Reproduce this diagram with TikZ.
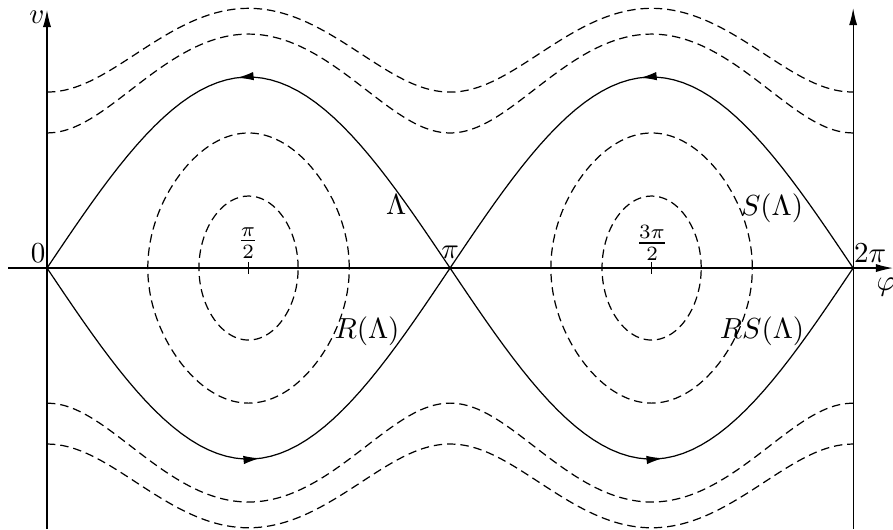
\documentclass[tikz,border=0pt]{standalone}
\usepackage{amsmath, amssymb}
\usepackage{tikz}
\usetikzlibrary{arrows.meta, decorations.markings}

\tikzset{
    eix/.style={line width=0.42pt},
    orbita/.style={line width=0.42pt, dash pattern=on 2.9pt off 1.7pt},
    separatriu/.style={line width=0.42pt},
    fletxa/.style={postaction={decorate}, decoration={markings,
        mark=at position 0.52 with {\arrow{Latex[length=5.7pt,width=2.9pt]}}}},
}

\begin{document}
\begin{tikzpicture}[x=0.7724pt, y=65.9pt]
    \useasboundingbox (-20.99,-1.3665) rectangle (377.8,1.403);

    % Eixos
    \coordinate (xa) at (-17.4,0);
    \coordinate (xb) at (377.8,0);
    \coordinate (ya) at (0,-1.3665);
    \coordinate (yb) at (0,1.351);
    \coordinate (za) at (360,-1.3665);
    \coordinate (zb) at (360,1.361);
    \draw[eix, -{Latex[length=5.9pt,width=2.8pt]}] (xa) -- (xb);
    \draw[eix, -{Latex[length=5.9pt,width=2.8pt]}] (ya) -- (yb);
    \draw[eix, -{Latex[length=5.9pt,width=2.8pt]}] (za) -- (zb);
    \foreach \a in {90,270}
        \draw[eix] (\a,-0.031) -- (\a,0.031);

    % Etiquetes
    \node (v) at (-4.5,1.314) {$v$};
    \node (phi) at (374.7,-0.1) {$\varphi$};
    \node (zero) at (-4.0,0.0785) {$0$};
    \node (pi) at (180,0.084) {$\pi$};
    \node (dospi) at (367.6,0.0785) {$2\pi$};
    \node (mitjpi) at (89.8,0.131) {$\frac{\pi}{2}$};
    \node (tresmitjpi) at (270.2,0.131) {$\frac{3\pi}{2}$};

    % Separatrius
    \draw[separatriu, fletxa] plot[domain=180:0, samples=46] (\x,{sin(\x)});
    \draw[separatriu, fletxa] plot[domain=0:180, samples=46] (\x,{-sin(\x)});
    \draw[separatriu, fletxa] plot[domain=360:180, samples=46] (\x,{-sin(\x)});
    \draw[separatriu, fletxa] plot[domain=180:360, samples=46] (\x,{sin(\x)});
    \node (lam) at (155.9,0.33) {$\Lambda$};
    \node (slam) at (323.8,0.314) {$S(\Lambda)$};
    \node (rlam) at (142.9,-0.33) {$R(\Lambda)$};
    \node (rslam) at (319.3,-0.33) {$RS(\Lambda)$};

    % Orbites tancades
    \foreach \c in {90,270}
        \foreach \k in {0.377,0.707}
            \draw[orbita] plot[domain=0:360, samples=73, smooth]
                ({\c+asin(\k*cos(\x))},{\k*sin(\x)});

    % Orbites obertes
    \foreach \c in {0.707,0.921} {
        \draw[orbita] plot[domain=0:360, samples=91, smooth] (\x,{sqrt(\c*\c+sin(\x)*sin(\x))});
        \draw[orbita] plot[domain=0:360, samples=91, smooth] (\x,{-sqrt(\c*\c+sin(\x)*sin(\x))});
    }
\end{tikzpicture}
\end{document}
